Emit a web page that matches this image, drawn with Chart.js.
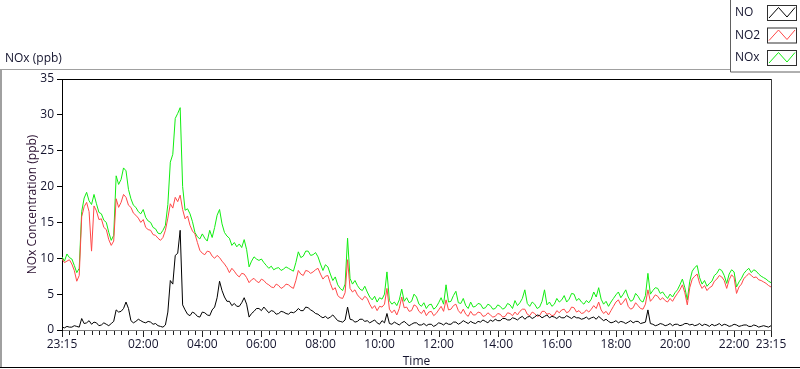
<!DOCTYPE html>
<html>
<head>
<meta charset="utf-8">
<title>NOx (ppb)</title>
<script src="https://cdn.jsdelivr.net/npm/chart.js@4.4.0/dist/chart.umd.min.js"></script>
<style>
html, body { margin: 0; padding: 0; background: #fff; }
#wrap { position: relative; width: 800px; height: 369px; }
</style>
</head>
<body>
<div id="wrap"><canvas id="noxChart" width="800" height="369"></canvas></div>
<script>
// minutes after 23:15, 5 minute samples, one row per hour
const minutes = [
  0, 5, 10, 15, 20, 25, 30, 35, 40, 45, 50, 55,
  60, 65, 70, 75, 80, 85, 90, 95, 100, 105, 110, 115,
  120, 125, 130, 135, 140, 145, 150, 155, 160, 165, 170, 175,
  180, 185, 190, 195, 200, 205, 210, 215, 220, 225, 230, 235,
  240, 245, 250, 255, 260, 265, 270, 275, 280, 285, 290, 295,
  300, 305, 310, 315, 320, 325, 330, 335, 340, 345, 350, 355,
  360, 365, 370, 375, 380, 385, 390, 395, 400, 405, 410, 415,
  420, 425, 430, 435, 440, 445, 450, 455, 460, 465, 470, 475,
  480, 485, 490, 495, 500, 505, 510, 515, 520, 525, 530, 535,
  540, 545, 550, 555, 560, 565, 570, 575, 580, 585, 590, 595,
  600, 605, 610, 615, 620, 625, 630, 635, 640, 645, 650, 655,
  660, 665, 670, 675, 680, 685, 690, 695, 700, 705, 710, 715,
  720, 725, 730, 735, 740, 745, 750, 755, 760, 765, 770, 775,
  780, 785, 790, 795, 800, 805, 810, 815, 820, 825, 830, 835,
  840, 845, 850, 855, 860, 865, 870, 875, 880, 885, 890, 895,
  900, 905, 910, 915, 920, 925, 930, 935, 940, 945, 950, 955,
  960, 965, 970, 975, 980, 985, 990, 995, 1000, 1005, 1010, 1015,
  1020, 1025, 1030, 1035, 1040, 1045, 1050, 1055, 1060, 1065, 1070, 1075,
  1080, 1085, 1090, 1095, 1100, 1105, 1110, 1115, 1120, 1125, 1130, 1135,
  1140, 1145, 1150, 1155, 1160, 1165, 1170, 1175, 1180, 1185, 1190, 1195,
  1200, 1205, 1210, 1215, 1220, 1225, 1230, 1235, 1240, 1245, 1250, 1255,
  1260, 1265, 1270, 1275, 1280, 1285, 1290, 1295, 1300, 1305, 1310, 1315,
  1320, 1325, 1330, 1335, 1340, 1345, 1350, 1355, 1360, 1365, 1370, 1375,
  1380, 1385, 1390, 1395, 1400, 1405, 1410, 1415, 1420, 1425, 1430, 1435,
  1440
];

const noValues = [
  0.4, 0.3, 0.5, 0.4, 0.4, 0.6, 0.5, 0.4, 1.6, 0.9, 1.0, 1.3,
  0.8, 1.1, 1.0, 0.6, 0.7, 1.0, 0.8, 0.6, 0.9, 1.2, 2.8, 2.5,
  2.6, 3.0, 3.9, 3.0, 1.3, 1.0, 1.2, 1.5, 1.3, 1.1, 1.0, 1.2,
  1.1, 0.8, 0.9, 0.6, 0.5, 0.4, 0.7, 2.5, 6.9, 6.4, 10.4, 10.7,
  13.9, 3.5, 2.8, 2.2, 2.0, 2.5, 2.3, 1.9, 1.8, 2.5, 2.4, 2.1,
  2.0, 2.8, 3.2, 4.5, 6.8, 5.5, 4.6, 4.0, 4.0, 3.4, 3.7, 3.3,
  3.3, 3.8, 4.5, 3.6, 1.8, 2.3, 2.6, 3.0, 3.0, 2.7, 3.2, 2.8,
  2.4, 2.7, 2.6, 2.2, 2.3, 2.6, 2.5, 2.3, 2.2, 2.5, 2.4, 2.6,
  3.0, 2.7, 2.7, 3.2, 3.1, 2.8, 2.6, 2.3, 2.2, 1.9, 1.7, 1.9,
  1.6, 1.8, 2.1, 1.7, 1.3, 1.2, 1.1, 1.4, 3.2, 1.5, 1.4, 1.1,
  1.2, 1.5, 1.5, 1.2, 1.3, 1.0, 1.2, 1.4, 1.0, 0.8, 1.3, 1.0,
  2.3, 0.9, 0.8, 1.1, 0.9, 0.7, 1.0, 1.2, 0.9, 0.6, 0.8, 1.0,
  1.0, 0.7, 0.7, 0.9, 0.6, 0.8, 0.8, 0.5, 0.7, 1.0, 0.9, 0.7,
  1.0, 0.8, 0.8, 1.1, 1.1, 0.8, 1.0, 1.3, 1.1, 0.9, 1.2, 1.0,
  0.9, 1.2, 1.1, 1.4, 1.2, 1.0, 1.4, 1.2, 1.5, 1.3, 1.3, 1.6,
  1.6, 1.4, 1.4, 1.7, 1.6, 1.4, 1.7, 1.9, 1.5, 1.8, 1.9, 1.6,
  1.8, 2.1, 2.0, 1.7, 1.9, 2.1, 1.7, 1.9, 1.8, 1.6, 1.9, 1.7,
  1.7, 2.0, 1.8, 1.6, 1.9, 1.7, 1.7, 1.5, 1.6, 1.8, 1.5, 1.7,
  1.8, 1.5, 1.9, 1.6, 1.3, 1.5, 1.2, 1.0, 1.1, 1.3, 1.0, 1.2,
  1.1, 0.9, 1.1, 1.3, 1.0, 1.2, 1.2, 0.9, 1.0, 1.1, 2.8, 0.9,
  0.8, 0.6, 0.7, 0.9, 0.8, 0.6, 0.7, 0.9, 0.6, 0.8, 0.8, 0.6,
  0.7, 0.9, 0.9, 0.7, 0.8, 0.6, 0.7, 0.9, 0.6, 0.8, 0.7, 0.5,
  0.8, 0.6, 0.7, 0.9, 0.6, 0.8, 0.7, 0.5, 0.6, 0.8, 0.7, 0.5,
  0.6, 0.7, 0.7, 0.5, 0.5, 0.7, 0.6, 0.4, 0.5, 0.6, 0.5, 0.4,
  0.6
];

const no2Values = [
  9.9, 9.4, 9.6, 9.8, 9.2, 8.3, 6.8, 7.6, 15.8, 17.2, 17.8, 16.5,
  11.0, 17.3, 16.6, 15.4, 15.5, 14.3, 14.0, 12.6, 11.8, 12.4, 18.3, 17.1,
  17.8, 18.9, 18.5, 17.4, 17.1, 16.3, 16.0, 15.6, 15.0, 15.4, 14.3, 14.0,
  13.9, 13.3, 13.2, 12.8, 12.5, 12.9, 13.9, 15.6, 17.6, 17.0, 18.5, 17.9,
  18.8, 16.8, 15.5, 15.9, 14.6, 13.8, 13.4, 12.2, 11.1, 10.7, 10.5, 11.0,
  10.9, 10.3, 10.0, 10.4, 10.1, 9.6, 9.2, 8.7, 8.0, 8.6, 8.2, 7.7,
  7.4, 7.9, 7.8, 7.3, 6.6, 7.0, 7.2, 6.8, 6.6, 7.1, 6.9, 6.5,
  6.3, 6.0, 5.9, 6.4, 6.2, 5.8, 6.0, 6.4, 6.3, 6.0, 5.8, 6.9,
  8.3, 7.8, 7.6, 8.3, 8.2, 7.9, 8.1, 8.4, 8.6, 7.8, 7.1, 7.5,
  7.6, 6.5, 5.6, 5.9, 4.8, 4.5, 4.4, 5.2, 9.8, 5.8, 5.3, 5.6,
  4.9, 4.5, 4.2, 4.7, 4.4, 3.6, 3.0, 3.4, 2.7, 3.3, 3.2, 3.6,
  5.8, 2.9, 2.4, 2.8, 2.1, 3.0, 4.6, 3.1, 3.2, 2.6, 2.7, 3.5,
  3.3, 2.6, 2.3, 2.8, 2.0, 2.5, 2.6, 2.0, 2.3, 2.8, 3.3, 2.6,
  4.2, 2.8, 2.9, 3.4, 3.6, 2.7, 2.3, 2.9, 2.2, 1.9, 2.6, 2.1,
  2.1, 2.5, 2.4, 1.9, 2.0, 2.4, 2.1, 1.8, 1.9, 2.3, 2.2, 1.8,
  1.9, 2.4, 2.3, 2.0, 2.5, 2.1, 2.6, 2.9, 2.9, 2.2, 2.0, 2.5,
  2.3, 1.9, 2.0, 2.6, 2.6, 2.2, 2.3, 2.0, 2.1, 2.7, 2.4, 2.8,
  2.9, 2.4, 2.6, 3.2, 3.1, 2.5, 2.7, 2.3, 2.4, 2.8, 2.5, 2.9,
  3.4, 3.0, 3.9, 2.8, 2.3, 2.6, 2.1, 2.7, 3.3, 3.9, 4.2, 3.5,
  3.9, 4.4, 3.3, 2.9, 3.1, 3.8, 3.4, 3.0, 2.9, 3.6, 5.6, 4.0,
  4.4, 4.9, 4.7, 4.2, 4.5, 4.1, 3.9, 4.4, 4.0, 4.6, 5.1, 5.6,
  6.3, 5.2, 3.5, 5.9, 7.1, 7.5, 7.8, 6.5, 5.8, 6.2, 5.5, 5.9,
  6.1, 6.8, 7.1, 7.6, 7.4, 6.9, 5.8, 7.0, 7.7, 7.3, 5.1, 6.0,
  6.4, 7.2, 7.5, 7.9, 7.6, 7.3, 7.4, 7.0, 6.9, 6.7, 6.5, 6.2,
  6.0
];

const noxValues = [
  10.2, 9.6, 10.6, 10.1, 9.9, 9.0, 8.0, 8.6, 16.5, 18.4, 19.2, 18.0,
  17.5, 18.9, 17.6, 16.4, 16.2, 15.3, 15.0, 13.6, 12.5, 13.2, 21.5, 20.3,
  21.0, 22.6, 22.2, 19.6, 18.3, 17.4, 17.1, 16.5, 16.2, 16.8, 15.7, 15.2,
  15.0, 14.3, 14.1, 13.5, 13.4, 13.9, 14.6, 17.5, 23.4, 24.5, 29.5, 30.2,
  31.0, 20.0, 16.7, 16.9, 16.2, 15.1, 13.6, 13.0, 12.7, 13.4, 12.8, 12.4,
  13.9, 12.9, 14.3, 16.0, 16.8, 14.8, 13.6, 13.1, 12.8, 11.8, 12.2, 11.6,
  12.0, 11.5, 12.6, 11.2, 8.8, 9.6, 10.2, 9.9, 9.7, 9.9, 9.4, 9.0,
  8.6, 8.9, 8.4, 8.6, 8.7, 8.3, 8.5, 8.8, 8.6, 8.4, 8.2, 9.4,
  10.9, 10.1, 10.3, 11.0, 11.0, 10.4, 10.5, 10.8, 10.2, 9.2, 8.3, 9.1,
  8.8, 7.8, 6.9, 7.4, 6.3, 5.8, 5.5, 6.4, 12.8, 7.2, 6.4, 6.9,
  6.2, 5.7, 5.5, 6.1, 5.3, 4.6, 4.2, 4.7, 3.9, 4.5, 4.3, 5.0,
  8.1, 4.1, 3.6, 3.9, 3.4, 4.2, 5.7, 4.0, 4.5, 3.8, 4.0, 5.0,
  4.6, 3.6, 3.3, 3.8, 3.0, 3.5, 3.6, 2.9, 3.2, 3.8, 4.5, 3.6,
  6.3, 3.9, 4.0, 4.8, 5.4, 3.8, 3.7, 4.4, 3.4, 3.0, 3.9, 3.2,
  3.3, 3.7, 3.6, 3.0, 3.1, 3.6, 3.4, 2.9, 3.0, 3.5, 3.3, 2.9,
  3.1, 3.7, 3.5, 3.0, 4.1, 3.4, 3.8, 4.4, 5.6, 3.7, 3.3, 3.9,
  3.6, 3.0, 3.2, 4.0, 5.6, 3.5, 3.9, 3.3, 3.6, 4.4, 3.9, 4.2,
  4.8, 3.9, 4.3, 5.1, 5.0, 4.1, 4.4, 3.9, 3.6, 4.1, 3.8, 4.3,
  5.3, 4.6, 5.9, 4.3, 3.6, 4.0, 3.3, 3.9, 4.4, 4.9, 5.3, 4.5,
  5.0, 5.6, 4.6, 4.0, 4.2, 5.1, 4.7, 4.1, 3.9, 4.8, 7.9, 5.0,
  5.5, 5.9, 5.8, 5.1, 5.3, 4.8, 4.4, 5.0, 4.6, 5.2, 5.6, 6.3,
  7.1, 5.9, 4.2, 6.8, 8.2, 8.7, 9.0, 7.3, 6.4, 6.9, 6.1, 6.5,
  6.8, 7.6, 7.9, 8.5, 8.3, 7.6, 6.5, 7.8, 8.4, 8.1, 6.0, 6.7,
  7.2, 7.9, 8.3, 8.6, 8.0, 8.4, 8.2, 7.8, 7.5, 7.3, 7.1, 6.8,
  6.6
];

// labelled time ticks (minutes after 23:15)
const labelMinutes = [0, 165, 285, 405, 525, 645, 765, 885, 1005, 1125, 1245, 1365, 1440];
const labelTexts = ['23:15', '02:00', '04:00', '06:00', '08:00', '10:00', '12:00', '14:00', '16:00', '18:00', '20:00', '22:00', '23:15'];

const FONT = "'Open Sans', 'Liberation Sans', sans-serif";
const TEXT_COLOR = '#14142e';

Chart.defaults.font.family = FONT;
Chart.defaults.font.size = 12;
Chart.defaults.color = TEXT_COLOR;

// background, outer frame, title and legend box
const framePlugin = {
  id: 'frame',
  beforeDraw(chart) {
    const ctx = chart.ctx;
    ctx.save();
    ctx.fillStyle = '#ffffff';
    ctx.fillRect(0, 0, chart.width, chart.height);

    // outer frame
    ctx.strokeStyle = '#a0a0a0';
    ctx.lineWidth = 1;
    ctx.beginPath();
    ctx.moveTo(0, 69.5); ctx.lineTo(800, 69.5);
    ctx.moveTo(0.5, 69); ctx.lineTo(0.5, 368);
    ctx.moveTo(1.5, 69); ctx.lineTo(1.5, 368);
    ctx.stroke();
    ctx.strokeStyle = '#000000';
    ctx.beginPath();
    ctx.moveTo(0, 367.5); ctx.lineTo(800, 367.5);
    ctx.stroke();

    // title
    ctx.font = '12px ' + FONT;
    ctx.fillStyle = TEXT_COLOR;
    ctx.textAlign = 'left';
    ctx.textBaseline = 'middle';
    ctx.fillText('NOx (ppb)', 5, 59);

    // legend box
    ctx.fillStyle = '#ffffff';
    ctx.fillRect(730, 0, 70, 72);
    ctx.strokeStyle = '#606060';
    ctx.beginPath();
    ctx.moveTo(730.5, 0); ctx.lineTo(730.5, 72);
    ctx.lineTo(800, 72);
    ctx.stroke();

    chart.data.datasets.forEach((ds, i) => {
      const top = 5 + i * 22.5;
      ctx.fillStyle = TEXT_COLOR;
      ctx.font = '12px ' + FONT;
      ctx.textBaseline = 'middle';
      ctx.fillText(ds.label, 735, top + 8);
      // swatch
      ctx.strokeStyle = '#303030';
      ctx.lineWidth = 1;
      ctx.strokeRect(767.5, top + 0.5, 29, 15);
      ctx.strokeStyle = ds.borderColor;
      ctx.beginPath();
      ctx.moveTo(769, top + 13);
      ctx.lineTo(778.5, top + 2.5);
      ctx.lineTo(787, top + 12);
      ctx.lineTo(795, top + 2.5);
      ctx.stroke();
    });
    ctx.restore();
  },
  afterDraw(chart) {
    const ctx = chart.ctx;
    const {left, right, top, bottom} = chart.chartArea;
    const x = chart.scales.x;
    ctx.save();
    ctx.lineWidth = 1;
    ctx.strokeStyle = '#000000';
    ctx.beginPath();
    ctx.moveTo(left, top + 0.5); ctx.lineTo(right + 1, top + 0.5);
    ctx.stroke();
    ctx.strokeStyle = '#404040';
    ctx.beginPath();
    ctx.moveTo(right + 0.5, top); ctx.lineTo(right + 0.5, bottom + 1);
    ctx.stroke();

    // time axis tick marks every 15 minutes
    ctx.strokeStyle = '#202020';
    ctx.beginPath();
    for (let m = 0; m <= 1440; m += 15) {
      const px = Math.round(x.getPixelForValue(m)) + 0.5;
      const len = labelMinutes.includes(m) ? 6 : 4;
      ctx.moveTo(px, bottom + 1);
      ctx.lineTo(px, bottom + 1 + len);
    }
    ctx.stroke();
    ctx.restore();
  }
};

const ctx = document.getElementById('noxChart').getContext('2d');
const noxChart = new Chart(ctx, {
  type: 'line',
  data: {
    labels: minutes,
    datasets: [
      { label: 'NO', data: noValues, borderColor: '#000000', order: 1 },
      { label: 'NO2', data: no2Values, borderColor: '#ff4848', order: 2 },
      { label: 'NOx', data: noxValues, borderColor: '#11ee11', order: 3 }
    ]
  },
  options: {
    responsive: false,
    animation: false,
    devicePixelRatio: 1,
    layout: { padding: { top: 79, right: 29, left: 0, bottom: 0 } },
    elements: {
      line: { borderWidth: 1, tension: 0 },
      point: { radius: 0 }
    },
    plugins: {
      legend: { display: false },
      tooltip: { enabled: false }
    },
    scales: {
      x: {
        type: 'linear',
        min: 0,
        max: 1440,
        afterFit(scale) { scale.height = 39; },
        afterBuildTicks(scale) {
          scale.ticks = labelMinutes.map(v => ({ value: v }));
        },
        grid: { display: false, drawTicks: false, tickLength: 0 },
        border: { display: true, color: '#808080', width: 1 },
        ticks: {
          autoSkip: false,
          maxRotation: 0,
          padding: 7,
          color: TEXT_COLOR,
          callback(value) {
            const i = labelMinutes.indexOf(value);
            return i >= 0 ? labelTexts[i] : '';
          }
        },
        title: {
          display: true,
          text: 'Time',
          color: TEXT_COLOR,
          padding: { top: 0, bottom: 0 }
        }
      },
      y: {
        min: 0,
        max: 35,
        afterFit(scale) { scale.width = 62; },
        grid: { drawOnChartArea: false, drawTicks: true, tickLength: 5, color: '#000000' },
        border: { display: true, color: '#000000', width: 1 },
        ticks: { stepSize: 5, padding: 3, color: TEXT_COLOR },
        title: {
          display: true,
          text: 'NOx Concentration (ppb)',
          color: '#2a1030',
          padding: { top: 25, bottom: 0 }
        }
      }
    }
  },
  plugins: [framePlugin]
});
</script>
</body>
</html>
